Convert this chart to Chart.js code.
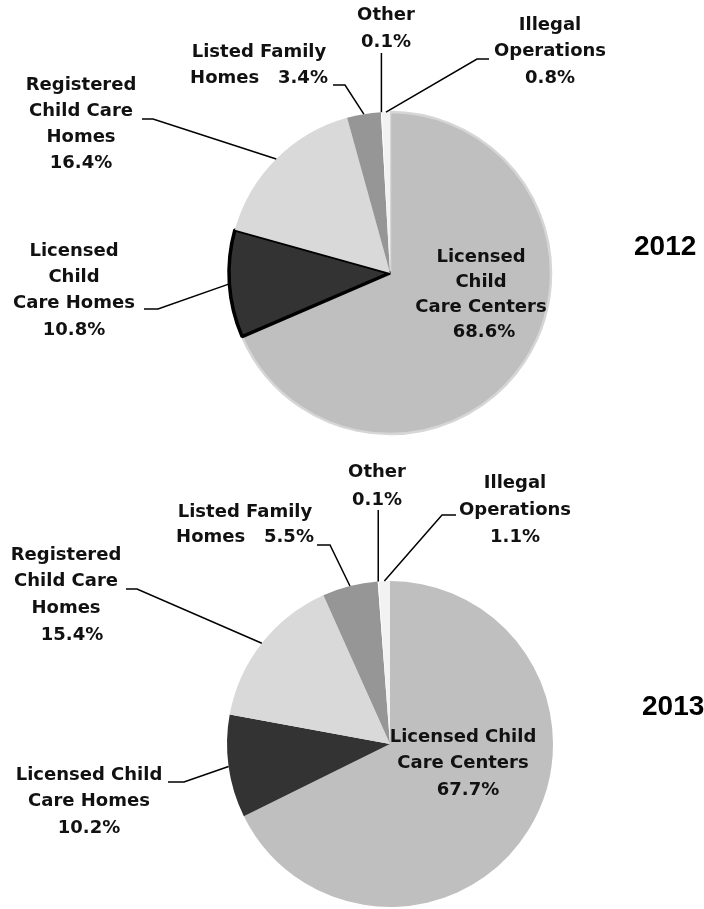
<!DOCTYPE html>
<html>
<head>
<meta charset="UTF-8">
<title>Child care capacity by operation type</title>
<style>
  body { margin: 0; background: #fff; }
  #wrap { position: relative; width: 704px; height: 909px; overflow: hidden; }
  #wrap canvas { position: absolute; left: 0; top: 0; }
</style>
</head>
<body>
<div id="wrap">
  <canvas id="pie2012" width="704" height="909"></canvas>
  <canvas id="pie2013" width="704" height="909"></canvas>
</div>

<script src="https://cdn.jsdelivr.net/npm/chart.js@4.4.0/dist/chart.umd.min.js"></script>
<script>
// data
const categories = ['Licensed Child Care Centers', 'Licensed Child Care Homes', 'Registered Child Care Homes',
                    'Listed Family Homes', 'Other', 'Illegal Operations'];
const values2012 = [68.6, 10.8, 16.4, 3.4, 0.1, 0.8];
const values2013 = [67.7, 10.2, 15.4, 5.5, 0.1, 1.1];
const years = ['2012', '2013'];

const sliceColors = ['#bfbfbf', '#333333', '#d9d9d9', '#969696', '#ffffff', '#f2f2f2'];

// label placement (page pixels), {p} is replaced by the slice value
const labels2012 = [
  { x: 481, y: 257, lh: 25,   lines: ['Licensed', 'Child', 'Care Centers', '{p}'], pdx: 3 },
  { x: 74,  y: 251, lh: 26.3, lines: ['Licensed', 'Child', 'Care Homes', '{p}'] },
  { x: 81,  y: 85,  lh: 26,   lines: ['Registered', 'Child Care', 'Homes', '{p}'] },
  { x: 259, y: 52,  lh: 26,   lines: ['Listed Family', 'Homes   {p}'] },
  { x: 386, y: 15,  lh: 27,   lines: ['Other', '{p}'] },
  { x: 550, y: 25,  lh: 26.5, lines: ['Illegal', 'Operations', '{p}'] }
];
const leaders2012 = [
  null,
  { elbow: [158, 309], end: [144, 309] },
  { elbow: [153, 119], end: [142, 119] },
  { elbow: [345, 85],  end: [333, 85] },
  { elbow: [0, 53] },
  { elbow: [477, 59],  end: [489, 59] }
];

const labels2013 = [
  { x: 463, y: 737, lh: 26.5, lines: ['Licensed Child', 'Care Centers', '{p}'], pdx: 5 },
  { x: 89,  y: 775, lh: 26.5, lines: ['Licensed Child', 'Care Homes', '{p}'] },
  { x: 66,  y: 555, lh: 26.7, lines: ['Registered', 'Child Care', 'Homes', '{p}'], pdx: 6 },
  { x: 245, y: 512, lh: 25,   lines: ['Listed Family', 'Homes   {p}'] },
  { x: 377, y: 472, lh: 28,   lines: ['Other', '{p}'] },
  { x: 515, y: 483, lh: 27,   lines: ['Illegal', 'Operations', '{p}'] }
];
const leaders2013 = [
  null,
  { elbow: [184, 782], end: [168, 782] },
  { elbow: [137, 589], end: [126, 589] },
  { elbow: [330, 545], end: [317, 545] },
  { elbow: [0, 510] },
  { elbow: [442, 515], end: [456, 515] }
];

const labelPlugin = {
  id: 'pieLabels',
  afterDatasetsDraw(chart, args, opts) {
    const ctx = chart.ctx;
    const values = chart.data.datasets[0].data;
    const arcs = chart.getDatasetMeta(0).data;
    ctx.save();

    // leader lines start on the rim at each slice's mid angle
    ctx.strokeStyle = '#000';
    ctx.lineWidth = 1.5;
    opts.leaders.forEach((ld, i) => {
      if (!ld) return;
      const a = arcs[i];
      const mid = (a.startAngle + a.endAngle) / 2;
      const px = a.x + Math.cos(mid) * a.outerRadius;
      const py = a.y + Math.sin(mid) * a.outerRadius;
      ctx.beginPath();
      ctx.moveTo(px, py);
      if (ld.end) {
        ctx.lineTo(ld.elbow[0], ld.elbow[1]);
        ctx.lineTo(ld.end[0], ld.end[1]);
      } else {
        ctx.lineTo(px, ld.elbow[1]);
      }
      ctx.stroke();
    });

    ctx.font = 'bold 18px "DejaVu Sans"';
    ctx.fillStyle = '#111';
    ctx.textAlign = 'center';
    ctx.textBaseline = 'middle';
    opts.labels.forEach((lb, i) => {
      const pct = values[i].toFixed(1) + '%';
      lb.lines.forEach((t, k) => {
        const dx = t === '{p}' ? (lb.pdx || 0) : 0;
        ctx.fillText(t.replace('{p}', pct), lb.x + dx, lb.y + k * lb.lh);
      });
    });

    ctx.font = 'bold 28px "Liberation Sans", Arial';
    ctx.textAlign = 'left';
    ctx.fillStyle = '#000';
    ctx.fillText(opts.year, opts.yearX, opts.yearY);
    ctx.restore();
  }
};

function makePie(id, values, year, radius, padding, borders, labels, leaders, yearPos) {
  new Chart(document.getElementById(id), {
    type: 'pie',
    data: {
      labels: categories,
      datasets: [{
        data: values,
        backgroundColor: sliceColors,
        borderColor: borders.color,
        borderWidth: borders.width,
        radius: radius
      }]
    },
    options: {
      responsive: false,
      animation: false,
      events: [],
      layout: { padding: padding },
      plugins: {
        legend: { display: false },
        tooltip: { enabled: false },
        pieLabels: { labels: labels, leaders: leaders, year: year, yearX: yearPos[0], yearY: yearPos[1] }
      }
    },
    plugins: [labelPlugin]
  });
}

makePie('pie2012', values2012, years[0], 161,
  { left: 228, right: 152, top: 111, bottom: 474 },
  { color: ['#d6d6d6', '#000000', '#fff', '#fff', '#fff', '#fff'], width: [2.5, 3.5, 0, 0, 0, 0] },
  labels2012, leaders2012, [634, 247]);

makePie('pie2013', values2013, years[1], 163,
  { left: 227, right: 151, top: 581, bottom: 2 },
  { color: '#fff', width: 0 },
  labels2013, leaders2013, [642, 707]);
</script>
</body>
</html>
